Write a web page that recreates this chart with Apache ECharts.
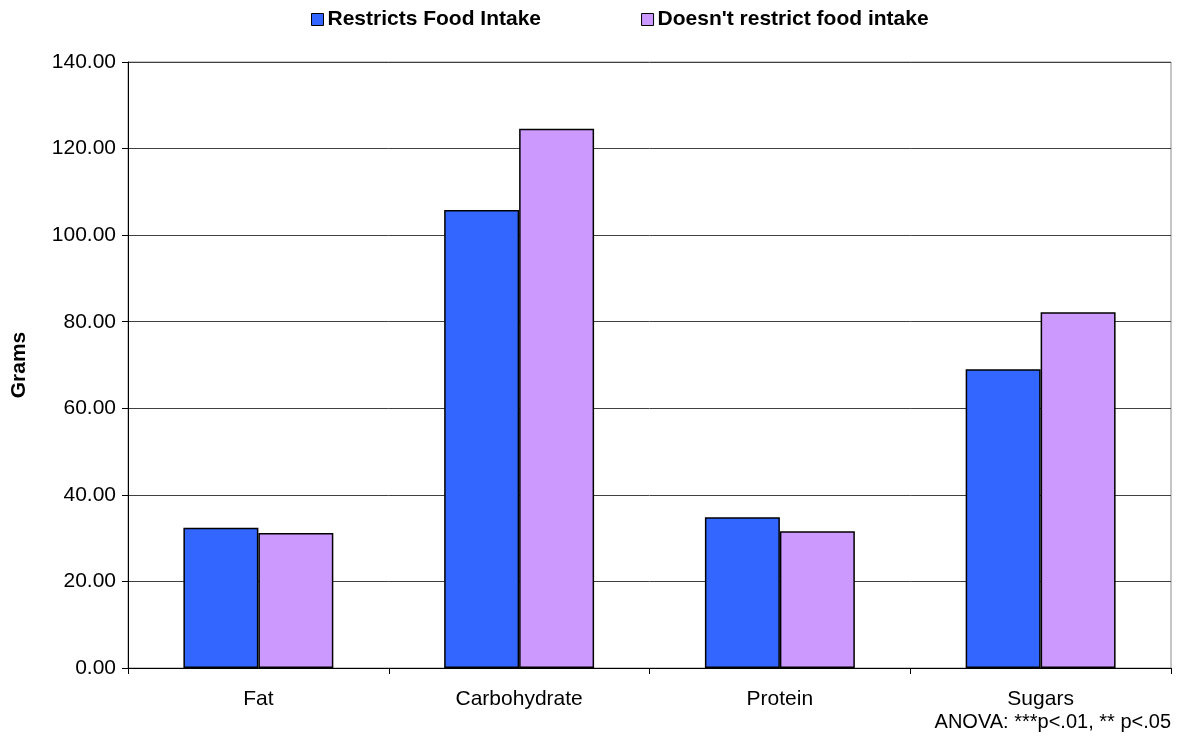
<!DOCTYPE html>
<html>
<head>
<meta charset="utf-8">
<script src="https://cdn.jsdelivr.net/npm/echarts@6/dist/echarts.min.js"></script>
<style>
  html, body { margin: 0; padding: 0; background: #fff; }
  #chart { width: 1183px; height: 736px; }
</style>
</head>
<body>
<div id="chart"></div>
<script>
// Mean daily intake by nutrient, grouped by dieting behaviour
const categories = ['Fat', 'Carbohydrate', 'Protein', 'Sugars'];
const restricts = [32.4, 105.8, 34.8, 69.0];
const doesntRestrict = [31.2, 124.6, 31.6, 82.2];
const seriesNames = ['Restricts Food Intake', "Doesn't restrict food intake"];
const yAxisTitle = 'Grams';
const footnote = 'ANOVA: ***p<.01, ** p<.05';

const FONT = '"Liberation Sans", Arial, sans-serif';

const chart = echarts.init(document.getElementById('chart'), null, { renderer: 'canvas' });

chart.setOption({
  animation: false,
  textStyle: { fontFamily: FONT },
  legend: {
    top: 4,
    left: 306,
    itemWidth: 12,
    itemHeight: 12,
    itemGap: 100,
    icon: 'rect',
    textStyle: { fontFamily: FONT, fontSize: 21, fontWeight: 'bold', color: '#000', padding: [0, 0, 0, -1] },
    data: seriesNames.map(n => ({ name: n, itemStyle: { borderColor: '#000', borderWidth: 1 } }))
  },
  grid: {
    left: 128,
    right: 12,
    top: 62,
    bottom: 68,
    outerBoundsMode: 'none',
    containLabel: false,
    show: true,
    borderColor: '#8c8c8c',
    borderWidth: 1,
    backgroundColor: 'transparent'
  },
  xAxis: {
    type: 'category',
    data: categories,
    axisLine: { show: true, lineStyle: { color: '#000', width: 1 } },
    axisTick: { show: true, alignWithLabel: false, length: 6, lineStyle: { color: '#000' } },
    axisLabel: { fontFamily: FONT, fontSize: 21, color: '#000', margin: 21 }
  },
  yAxis: {
    type: 'value',
    min: 0,
    max: 140,
    interval: 20,
    name: yAxisTitle,
    nameLocation: 'middle',
    nameGap: 98,
    nameTextStyle: { fontFamily: FONT, fontSize: 21, fontWeight: 'bold', color: '#000' },
    axisLine: { show: true, lineStyle: { color: '#000', width: 1 } },
    axisTick: { show: true, length: 6, lineStyle: { color: '#000' } },
    axisLabel: {
      fontFamily: FONT, fontSize: 21, color: '#000', margin: 12,
      formatter: v => v.toFixed(2)
    },
    splitLine: { show: true, lineStyle: { color: '#404040', width: 1 } }
  },
  series: [
    {
      name: seriesNames[0],
      type: 'bar',
      data: restricts,
      barGap: '0%',
      barCategoryGap: '42.5%',
      itemStyle: { color: '#3366FF', borderColor: '#000', borderWidth: 1.5 }
    },
    {
      name: seriesNames[1],
      type: 'bar',
      data: doesntRestrict,
      barGap: '0%',
      barCategoryGap: '42.5%',
      itemStyle: { color: '#CC99FF', borderColor: '#000', borderWidth: 1.5 }
    }
  ],
  graphic: [
    {
      type: 'text',
      right: 12,
      top: 712,
      style: { text: footnote, fontFamily: FONT, fontSize: 20, fill: '#000', textAlign: 'right' }
    }
  ]
});
</script>
</body>
</html>
